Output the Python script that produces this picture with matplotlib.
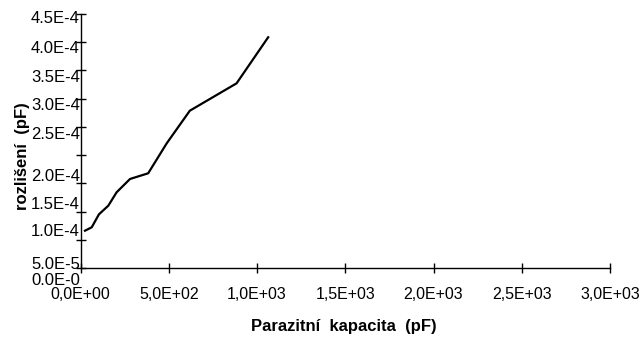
import matplotlib
matplotlib.use("Agg")
import matplotlib.pyplot as plt
from matplotlib.ticker import FixedLocator, NullFormatter

plt.rcParams['font.family'] = ['Liberation Sans', 'DejaVu Sans']

# data (x in pF, y in pF)
capacitance = [25, 63, 104, 157, 204, 280, 383, 488, 619, 884, 1063]
resolution = [6.61e-5, 7.21e-5, 9.51e-5, 1.104e-4, 1.341e-4, 1.577e-4,
              1.678e-4, 2.209e-4, 2.787e-4, 3.272e-4, 4.088e-4]

x_ticks = [0, 500, 1000, 1500, 2000, 2500, 3000]
x_labels = ['0,0E+00', '5,0E+02', '1,0E+03', '1,5E+03', '2,0E+03', '2,5E+03', '3,0E+03']
y_tick_marks = [0, 5e-5, 1e-4, 1.5e-4, 2e-4, 2.5e-4, 3e-4, 3.5e-4, 4e-4, 4.5e-4]
# label placements as they appear in the (scanned) reference
y_label_pos = [4.447e-4, 3.916e-4, 3.402e-4, 2.906e-4, 2.392e-4, 1.648e-4,
               1.152e-4, 6.73e-5, 9.5e-6, -2.0e-5]
y_labels = ['4.5E-4', '4.0E-4', '3.5E-4', '3.0E-4', '2.5E-4', '2.0E-4',
            '1.5E-4', '1.0E-4', '5.0E-5', '0.0E-0']

W, H = 641, 338
fig = plt.figure(figsize=(W / 100, H / 100), dpi=100)
left, right = 80.6, 610
top, zero_y = 14, 268
ymin, ymax = -2.5e-5, 4.5e-4
px_per = (zero_y - top) / ymax
bottom = zero_y + (0 - ymin) * px_per
ax = fig.add_axes([left / W, 1 - bottom / H, (right - left) / W, (bottom - top) / H])

ax.plot(capacitance, resolution, color='black', lw=1.6)

ax.set_xlim(0, 3000)
ax.set_ylim(ymin, ymax)

for s in ['top', 'right']:
    ax.spines[s].set_visible(False)
ax.spines['left'].set_bounds(0, 4.5e-4)
ax.spines['bottom'].set_position(('data', 0))
ax.spines['left'].set_linewidth(1.0)
ax.spines['bottom'].set_linewidth(1.0)

ax.set_xticks(x_ticks)
ax.set_xticklabels(x_labels, fontsize=11.5)
ax.tick_params(axis='x', direction='inout', length=7.5, width=1.0, pad=10)

ax.yaxis.set_major_locator(FixedLocator(y_label_pos))
ax.set_yticklabels(y_labels, fontsize=12)
ax.yaxis.set_minor_locator(FixedLocator(y_tick_marks))
ax.yaxis.set_minor_formatter(NullFormatter())
ax.tick_params(axis='y', which='major', length=0, pad=0.5)
ax.tick_params(axis='y', which='minor', direction='inout', length=7.5, width=1.0)

fig.text(344 / W, 1 - 327 / H, 'Parazitní  kapacita  (pF)', fontsize=12,
         fontweight='bold', ha='center', va='center')
fig.text(22.5 / W, 1 - 156 / H, 'rozlišení  (pF)', fontsize=12,
         fontweight='bold', ha='center', va='center', rotation=90)

fig.savefig('out.png', dpi=100)
